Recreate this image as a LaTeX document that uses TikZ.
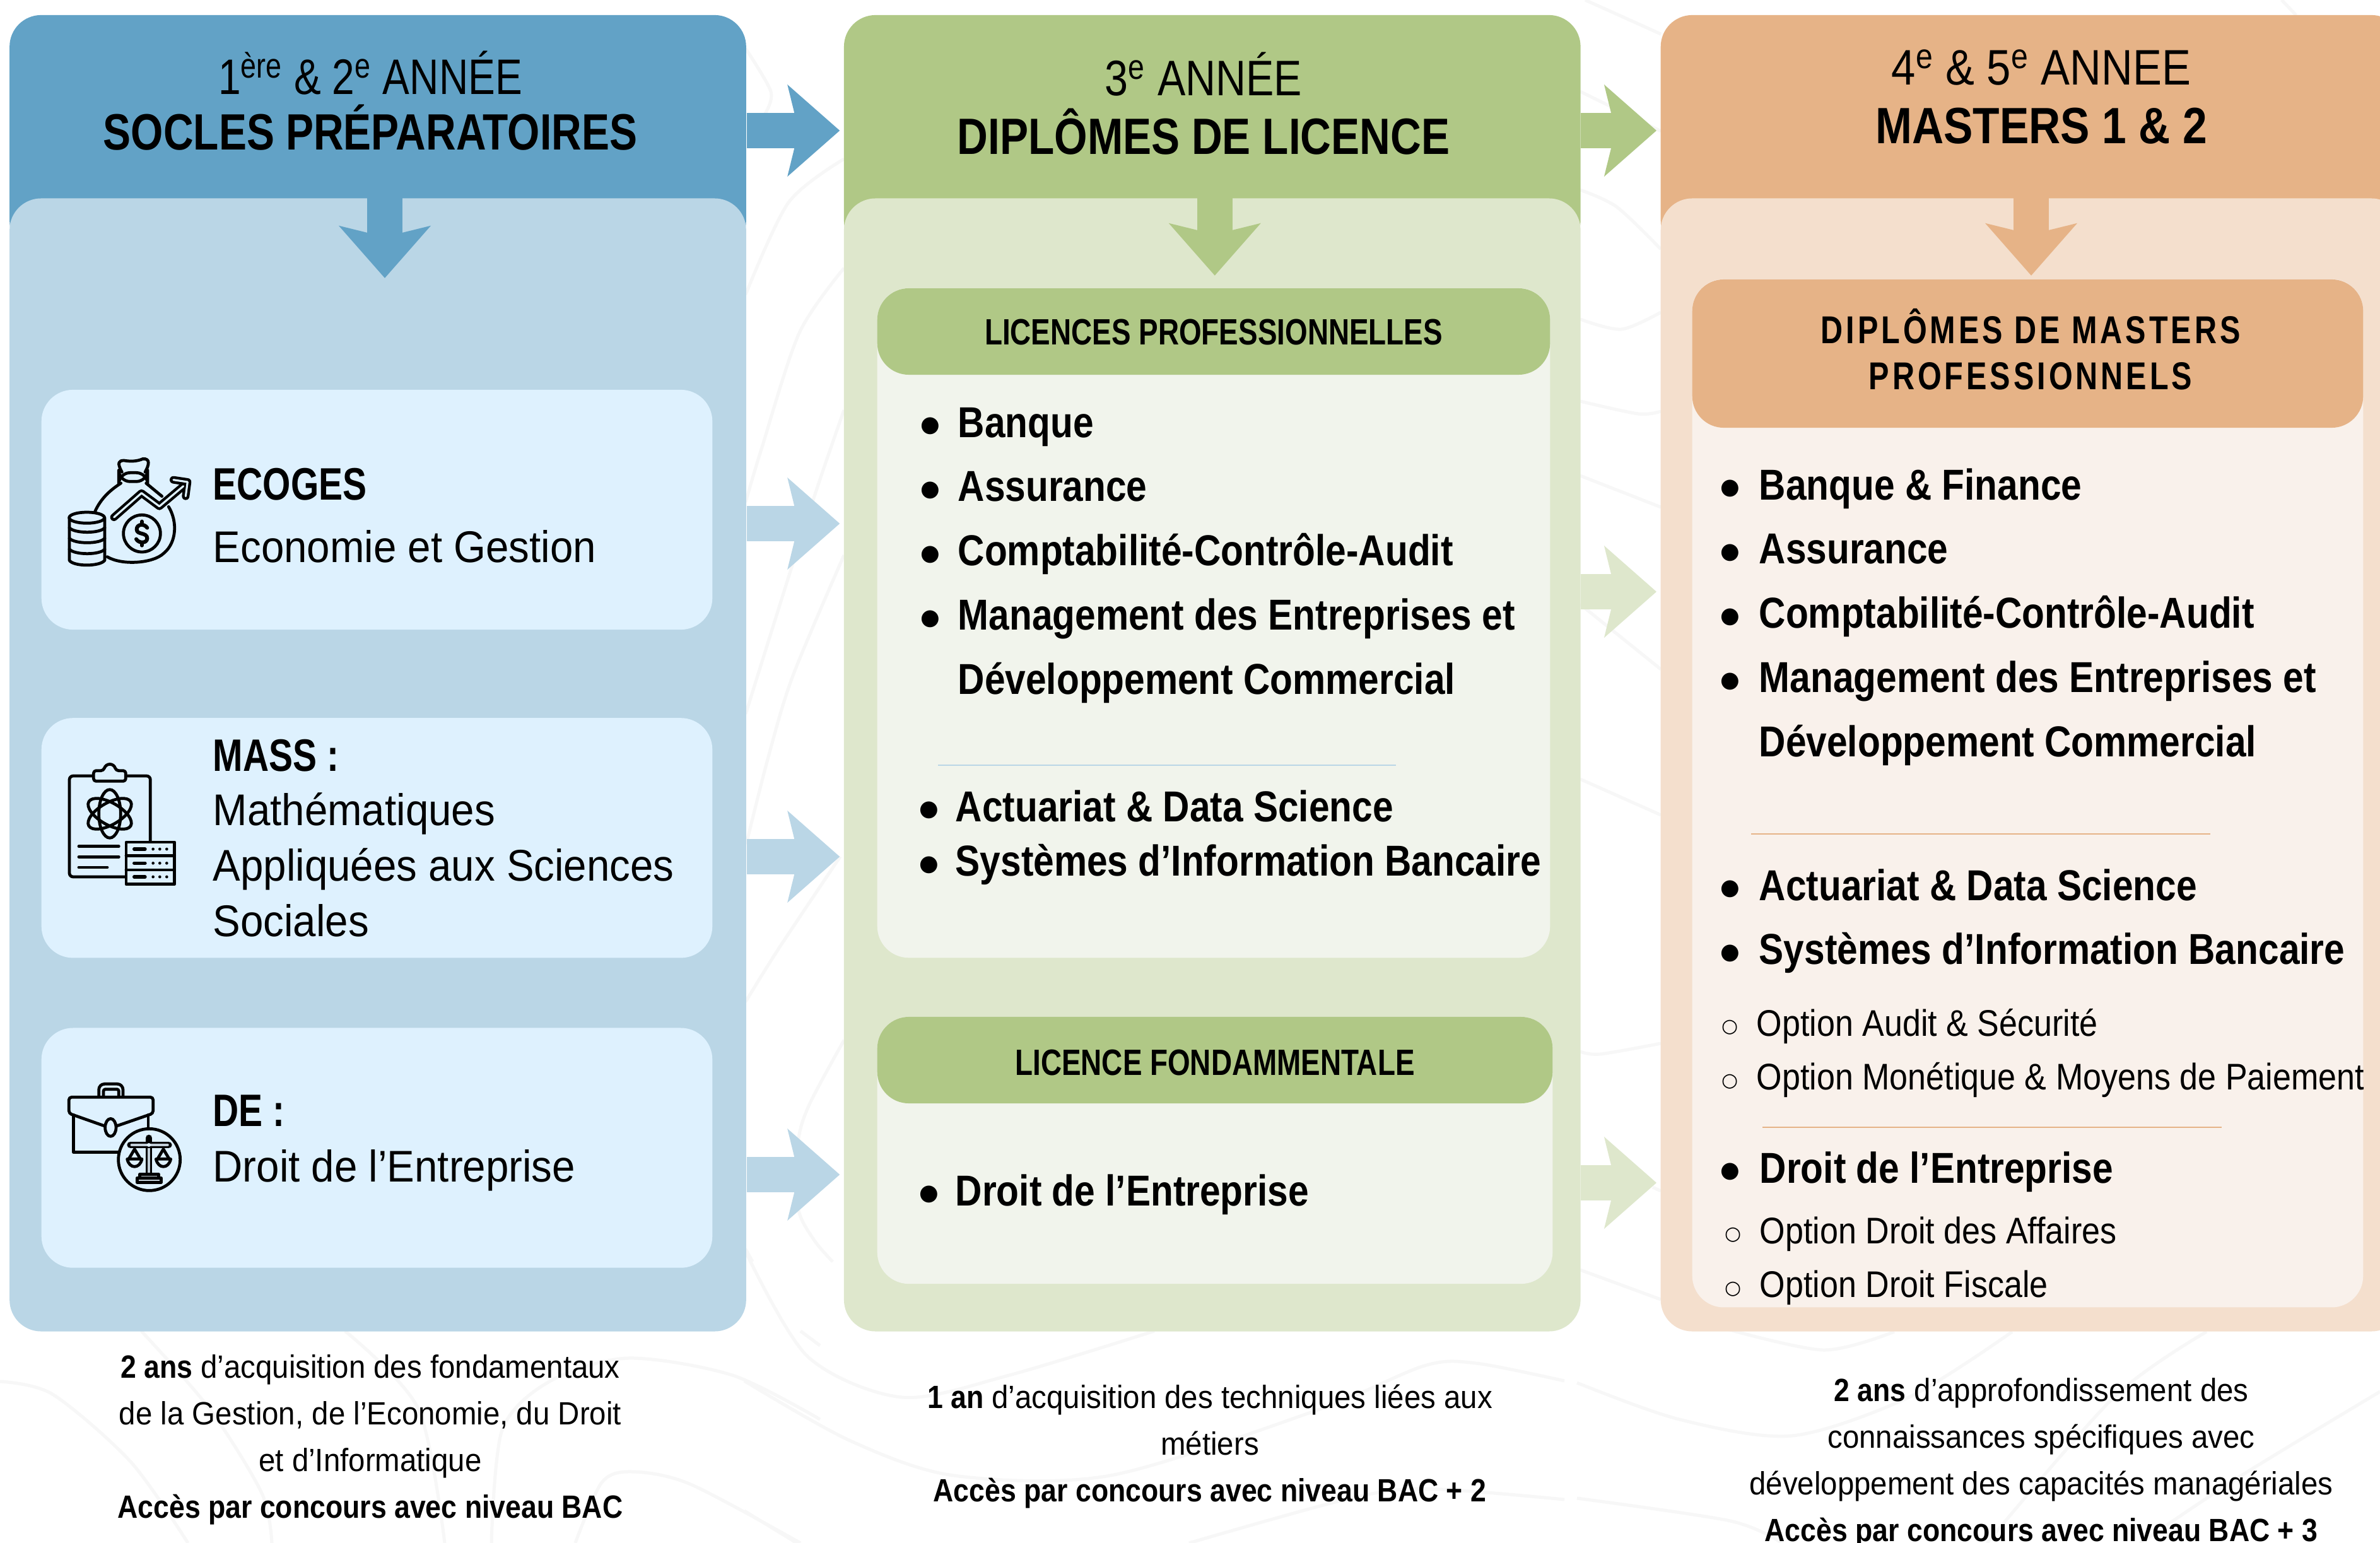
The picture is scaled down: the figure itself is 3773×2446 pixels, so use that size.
\documentclass[tikz,border=0pt]{standalone}
\usepackage{fontspec}
\usepackage{array}
\setmainfont{Liberation Sans}[FakeStretch=.93]
\newfontfamily\listfont{Liberation Sans}[FakeStretch=.855]
\newfontfamily\headfont{Liberation Sans}[FakeStretch=.79]
\newfontfamily\dotfont{DejaVu Sans}
\usetikzlibrary{arrows.meta}
\usetikzlibrary{positioning}
\definecolor{blueDark}{HTML}{62A2C6}
\definecolor{blueLight}{HTML}{BAD6E6}
\definecolor{bluePale}{HTML}{DEF1FE}
\definecolor{greenDark}{HTML}{B0C886}
\definecolor{greenLight}{HTML}{DEE7CC}
\definecolor{greenPale}{HTML}{F1F4EC}
\definecolor{orangeDark}{HTML}{E6B387}
\definecolor{orangeLight}{HTML}{F4DFCD}
\definecolor{orangePale}{HTML}{F9F1EB}
\definecolor{swirl}{HTML}{F7F7F7}
\newcommand{\bigdot}{\raisebox{2.5pt}{\dotfont\fontsize{10}{10}\selectfont ●}}
\newcommand{\ringdot}{\raisebox{1.6pt}{\dotfont\fontsize{8.5}{8.5}\selectfont ○}}
\newcommand{\footbold}[1]{{\listfont\bfseries\addfontfeature{FakeStretch=.875}#1}}
\tikzset{
    box/.style={
           rectangle,
           draw=none,
           inner sep=0pt,
           rounded corners=.5cm,
           },
    column/.style={box, minimum width=11.67cm, minimum height=17.95cm},
    header/.style={box, minimum width=11.67cm, minimum height=3.76cm},
    card/.style={box, fill=bluePale, minimum width=10.63cm, minimum height=3.8cm},
    banner/.style={box, fill=greenDark, minimum height=1.37cm},
    yeartext/.style={anchor=base, font=\addfontfeature{FakeStretch=#1}\fontsize{22.5}{26}\selectfont},
    titletext/.style={anchor=base, font=\headfont\bfseries\addfontfeature{FakeStretch=#1}\fontsize{23}{26}\selectfont},
    cardtext/.style={anchor=base west, align=left, font=\fontsize{20}{25}\selectfont},
    cardtitle/.style={anchor=base west, font=\headfont\bfseries\fontsize{20.5}{25}\selectfont},
    bannertext/.style={anchor=base, align=center, font=\headfont\bfseries\fontsize{16.5}{24.3}\selectfont},
    mastertext/.style={anchor=base, font=\headfont\bfseries\addfontfeature{LetterSpace=8}\fontsize{17.5}{24.5}\selectfont},
    itemtext/.style={anchor=base west, inner sep=0pt, font=\listfont\bfseries\fontsize{19.5}{29}\selectfont},
    optiontext/.style={anchor=base west, inner sep=0pt, font=\addfontfeature{FakeStretch=.886}\fontsize{16.7}{24.4}\selectfont},
    foottext/.style={anchor=base, align=center, font=\fontsize{14.5}{21}\selectfont},
    flow/.style={line width=.56cm, shorten >=.06cm,
       -{Stealth[length=.83cm, width=1.46cm, inset=.18cm, line width=0pt]}},
    rule/.style={line width=.7pt},
    icon/.style={line width=1.35pt, line cap=round, line join=round},
    iconframe/.style={x=.01cm/3, y=-.01cm/3},
    swirlline/.style={swirl, line width=.05cm},
}

\begin{document}
\begin{tikzpicture}[x=.01cm, y=-.01cm]
 \useasboundingbox[fill=white] (0,0) rectangle (3773,2446);

 \foreach \swirlpath in {
   {(1182,77) (1222,145) (1213,180)},
   {(1182,467) (1250,321) (1338,252)},
   {(1182,796) (1207,712) (1267,528) (1338,425)},
   {(1182,1132) (1283,811) (1338,650)},
   {(1183,1338) (1218,1200) (1257,1071) (1338,880)},
   {(1182,1588) (1233,1506) (1332,1358)},
   {(1338,1649) (1283,1751) (1265,1812) (1265,1914) (1290,1965) (1320,2000)},
   {(1182,1980) (1193,2000)},
   {(2513,0) (2633,54)},
   {(2505,145) (2633,208)},
   {(2505,301) (2563,328) (2633,395)},
   {(2505,506) (2570,522) (2633,495)},
   {(2505,636) (2597,656) (2633,652)},
   {(2505,754) (2633,804)},
   {(2505,958) (2633,1061)},
   {(2505,1235) (2633,1292)},
   {(2505,1667) (2537,1671) (2633,1654)},
   {(2620,1882) (2633,1888)},
   {(2505,2013) (2633,2060)},
   {(3617,0) (3640,24)},
   {(0,2190) (83,2210) (207,2317) (298,2446)},
   {(224,2110) (332,2233) (415,2367) (431,2446)},
   {(547,2110) (663,2233) (705,2446)},
   {(779,2446) (796,2267) (871,2190) (995,2153) (1161,2180) (1300,2250)},
   {(912,2446) (954,2350) (1003,2333) (1095,2353) (1269,2446)},
   {(1269,2110) (1300,2133)},
   {(1180,1980) (1280,2150) (1430,2215) (1600,2180) (1830,2110)},
   {(1180,2189) (1346,2283) (1512,2339) (1760,2339) (2092,2234) (2258,2165) (2340,2161) (2480,2189)},
   {(1180,2395) (1263,2446)},
   {(1885,2446) (2133,2377) (2258,2360) (2480,2377)},
   {(2727,2104) (2890,2140) (3003,2111)},
   {(2500,2192) (2662,2250) (2841,2276) (3028,2214) (3190,2111)},
   {(3498,2111) (3352,2214) (3150,2446)},
   {(3773,2206) (3555,2338) (3393,2446)},
   {(2500,2375) (2743,2411) (2825,2446)}}
  \draw[swirlline] plot[smooth] coordinates \swirlpath;

 \node[header, fill=blueDark] (HEADA) at (599,212) {};
 \node[header, fill=greenDark, node distance=13.22cm, right of=HEADA] (HEADB) {};
 \node[header, fill=orangeDark, minimum width=11.76cm, node distance=12.985cm, right of=HEADB] (HEADC) {};

 \node[column, fill=blueLight] (COLA) at (599,1212.5) {};
 \node[column, fill=greenLight, node distance=13.22cm, right of=COLA] (COLB) {};
 \node[column, fill=orangeLight, minimum width=11.76cm, node distance=12.985cm, right of=COLB] (COLC) {};

 \node[card] (ECOGES) at (597.5,808) {};
 \node[card, node distance=5.2cm, below of=ECOGES] (MASS) {};
 \node[card, node distance=4.91cm, below of=MASS] (DROIT) {};

 \node[box, fill=greenPale, minimum width=10.66cm, minimum height=10.61cm] (PROPANEL) at (1924,987.5) {};
 \node[banner, minimum width=10.66cm] (PROBANNER) at (1924,525.5) {};
 \node[box, fill=greenPale, minimum width=10.7cm, minimum height=4.23cm] (FONDPANEL) at (1926,1823.5) {};
 \node[banner, minimum width=10.7cm] (FONDBANNER) at (1926,1680.5) {};
 \node[box, fill=orangePale, minimum width=10.63cm, minimum height=16.29cm] (MASTERPANEL) at (3214.5,1257.5) {};
 \node[box, fill=orangeDark, minimum width=10.63cm, minimum height=2.35cm] (MASTERBANNER) at (3214.5,560.5) {};

 \coordinate (ROWTOP) at (0,207);
 \coordinate (ROWECO) at (0,830);
 \coordinate (ROWMASS) at (0,1358);
 \coordinate (ROWDROIT) at (0,1862);
 \coordinate (ROWLIC) at (0,938);
 \coordinate (ROWFOND) at (0,1875);

 \draw[flow, blueDark] (HEADA.east |- ROWTOP) -- (HEADB.west |- ROWTOP);
 \draw[flow, greenDark] (HEADB.east |- ROWTOP) -- (HEADC.west |- ROWTOP);
 \draw[flow, blueLight] (COLA.east |- ROWECO) -- (COLB.west |- ROWECO);
 \draw[flow, blueLight] (COLA.east |- ROWMASS) -- (COLB.west |- ROWMASS);
 \draw[flow, blueLight] (COLA.east |- ROWDROIT) -- (COLB.west |- ROWDROIT);
 \draw[flow, greenLight] (COLB.east |- ROWLIC) -- (COLC.west |- ROWLIC);
 \draw[flow, greenLight] (COLB.east |- ROWFOND) -- (COLC.west |- ROWFOND);

 \draw[flow, blueDark, shorten >=0pt] ([xshift=.11cm]COLA.north) -- ++(0,127);
 \draw[flow, greenDark, shorten >=0pt] ([xshift=.04cm]COLB.north) -- ++(0,123);
 \draw[flow, orangeDark, shorten >=0pt] ([xshift=-.01cm]COLC.north) -- ++(0,123);

 \node[yeartext=.81] (YEARA) at (587,150) {1\textsuperscript{ère} \& 2\textsuperscript{e} ANNÉE};
 \node[titletext=.815] (TITLEA) at (587,238) {SOCLES PRÉPARATOIRES};
 \node[yeartext=.84] (YEARB) at (1908,152) {3\textsuperscript{e} ANNÉE};
 \node[titletext=.835] (TITLEB) at (1908,245) {DIPLÔMES DE LICENCE};
 \node[yeartext=.87] (YEARC) at (3236,135) {4\textsuperscript{e} \& 5\textsuperscript{e} ANNEE};
 \node[titletext=.86] (TITLEC) at (3236,228) {MASTERS 1 \& 2};

 \node[cardtitle, inner sep=0pt] (ECOGESNAME) at (337,792) {ECOGES};
 \node[cardtext, inner sep=0pt] (ECOGESTEXT) at (337,891) {Economie et Gestion};
 \node[cardtitle, inner sep=0pt] (MASSNAME) at (337,1222) {MASS :};
 \node[cardtext, inner sep=0pt] (MASSTEXT) at (337,1484) {Mathématiques\\Appliquées aux Sciences\\Sociales};
 \node[cardtitle, inner sep=0pt] (DROITNAME) at (337,1785) {DE :};
 \node[cardtext, inner sep=0pt] (DROITTEXT) at (337,1873) {Droit de l’Entreprise};

 \node[bannertext] (PROTITLE) at (1924,547) {LICENCES PROFESSIONNELLES};
 \node[bannertext] (FONDTITLE) at (1926,1704) {LICENCE FONDAMMENTALE};
 \node[mastertext] (MASTERTITLE) at (3219,545) {DIPLÔMES DE MASTERS};
 \node[mastertext] (MASTERTITLEB) at (3219,617) {PROFESSIONNELS};

 \node[itemtext] (LICLIST) at (1454,693)
 {\begin{tabular}[t]{@{}>{\centering}m{.4cm}@{\hspace{.24cm}}l@{}}
   \bigdot & Banque\\
   \bigdot & Assurance\\
   \bigdot & Comptabilité-Contrôle-Audit\\
   \bigdot & Management des Entreprises et\\
           & Développement Commercial
  \end{tabular}};

 \node[itemtext, font=\listfont\bfseries\fontsize{19.5}{24.7}\selectfont] (LICLISTB) at (1452,1302)
 {\begin{tabular}[t]{@{}>{\centering}m{.4cm}@{\hspace{.22cm}}l@{}}
   \bigdot & Actuariat \& Data Science\\
   \bigdot & Systèmes d’Information Bancaire
  \end{tabular}};

 \node[itemtext] (FONDLIST) at (1452,1911)
 {\begin{tabular}[t]{@{}>{\centering}m{.4cm}@{\hspace{.22cm}}l@{}}
   \bigdot & Droit de l’Entreprise
  \end{tabular}};

 \node[itemtext] (MASTERLIST) at (2722,792)
 {\begin{tabular}[t]{@{}>{\centering}m{.4cm}@{\hspace{.26cm}}l@{}}
   \bigdot & Banque \& Finance\\
   \bigdot & Assurance\\
   \bigdot & Comptabilité-Contrôle-Audit\\
   \bigdot & Management des Entreprises et\\
           & Développement Commercial
  \end{tabular}};

 \node[itemtext] (MASTERLISTB) at (2722,1427)
 {\begin{tabular}[t]{@{}>{\centering}m{.4cm}@{\hspace{.26cm}}l@{}}
   \bigdot & Actuariat \& Data Science\\
   \bigdot & Systèmes d’Information Bancaire
  \end{tabular}};

 \node[optiontext] (MASTEROPT) at (2724,1642)
 {\begin{tabular}[t]{@{}>{\centering}m{.36cm}@{\hspace{.24cm}}l@{}}
   \ringdot & Option Audit \& Sécurité\\
   \ringdot & Option Monétique \& Moyens de Paiement
  \end{tabular}};

 \node[itemtext] (MASTERLISTC) at (2722,1875)
 {\begin{tabular}[t]{@{}>{\centering}m{.4cm}@{\hspace{.27cm}}l@{}}
   \bigdot & Droit de l’Entreprise
  \end{tabular}};

 \node[optiontext] (MASTEROPTB) at (2729,1971)
 {\begin{tabular}[t]{@{}>{\centering}m{.36cm}@{\hspace{.24cm}}l@{}}
   \ringdot & Option Droit des Affaires\\
   \ringdot & Option Droit Fiscale
  \end{tabular}};

 \coordinate (RULEA) at (1487,1213);
 \coordinate (RULEB) at (2213,1213);
 \coordinate (RULEC) at (2776,1322);
 \coordinate (RULED) at (3504,1322);
 \coordinate (RULEE) at (2794,1787);
 \coordinate (RULEF) at (3522,1787);
 \draw[rule, blueLight] (RULEA) -- (RULEB);
 \draw[rule, orangeDark] (RULEC) -- (RULED);
 \draw[rule, orangeDark] (RULEE) -- (RULEF);

 \node[foottext] (FOOTA) at (587,2406)
 {\footbold{2 ans} d’acquisition des fondamentaux\\de la Gestion, de l’Economie, du Droit\\et d’Informatique\\\footbold{Accès par concours avec niveau BAC}};
 \node[foottext] (FOOTB) at (1918,2380)
 {\footbold{1 an} d’acquisition des techniques liées aux\\métiers\\\footbold{Accès par concours avec niveau BAC + 2}};
 \node[foottext] (FOOTC) at (3236,2443)
 {\footbold{2 ans} d’approfondissement des\\connaissances spécifiques avec\\développement des capacités managériales\\\footbold{Accès par concours avec niveau BAC + 3}};

 % money bag
 \begin{scope}[shift={(60,680)}, iconframe, icon]
  \draw (272,392) .. controls (300,330) and (345,290) .. (395,258);
  \draw (515,258) -- (590,320);
  \draw (622,370) .. controls (665,440) and (660,540) .. (600,590)
        .. controls (550,640) and (400,650) .. (330,608);
  \draw (400,205) .. controls (375,160) and (385,150) .. (410,150)
        .. controls (440,155) and (470,155) .. (500,142)
        .. controls (535,140) and (530,170) .. (510,205);
  \draw[rounded corners=.18cm] (385,208) rectangle (522,250);
  \draw[line width=3.4pt] (362,420) -- (493,305) -- (578,368) -- (692,272);
  \draw[line width=3.4pt] (645,242) -- (712,252) -- (703,320);
  \draw[bluePale, line width=.9pt] (362,420) -- (493,305) -- (578,368) -- (692,272);
  \draw[bluePale, line width=.9pt] (645,242) -- (712,252) -- (703,320);
  \draw (495,497) circle[radius=88];
  \draw[line width=1.7pt] (520,470) .. controls (505,448) and (470,452) .. (470,478)
        .. controls (470,505) and (520,490) .. (520,520)
        .. controls (520,545) and (480,545) .. (468,524);
  \draw[line width=1.7pt] (495,440) -- (495,452) (495,542) -- (495,554);
  \draw[fill=bluePale] (150,422) -- (150,625) .. controls (170,655) and (295,655) .. (318,625)
        -- (318,422) -- cycle;
  \draw[fill=bluePale] (233,422) ellipse[x radius=84, y radius=26];
  \draw (150,470) .. controls (175,498) and (295,498) .. (318,470);
  \draw (150,520) .. controls (175,548) and (295,548) .. (318,520);
  \draw (150,572) .. controls (175,600) and (295,600) .. (318,572);
 \end{scope}

 % clipboard
 \begin{scope}[shift={(60,1180)}, iconframe, icon]
  \draw[rounded corners=.06cm] (265,150) -- (150,150) -- (150,630) -- (535,630) -- (535,150) -- (418,150);
  \draw[rounded corners=.04cm, fill=bluePale] (265,125) -- (312,125) .. controls (325,88) and (360,88) .. (372,125)
       -- (418,125) -- (418,175) -- (265,175) -- cycle;
  \draw (342,330) ellipse[x radius=52, y radius=115];
  \draw[rotate around={60:(342,330)}] (342,330) ellipse[x radius=52, y radius=115];
  \draw[rotate around={-60:(342,330)}] (342,330) ellipse[x radius=52, y radius=115];
  \draw (195,485) -- (385,485) (195,535) -- (385,535) (195,585) -- (330,585);
  \draw[fill=bluePale, miter limit=1] (420,465) rectangle (650,665);
  \draw (420,530) -- (650,530) (420,597) -- (650,597);
  \foreach \rowy in {498,565,630}{
   \draw[line width=1.5pt] (458,\rowy) -- (510,\rowy);
   \foreach \dotx in {548,580,613}
    \fill (\dotx,\rowy) circle[radius=7];
  }
 \end{scope}

 % briefcase
 \begin{scope}[shift={(60,1680)}, iconframe, icon]
  \draw[rounded corners=.09cm] (290,175) -- (290,115) -- (405,115) -- (405,175);
  \draw[rounded corners=.03cm] (312,175) -- (312,140) -- (385,140) -- (385,175);
  \draw (170,262) -- (170,440) -- (390,440);
  \draw (525,262) -- (525,330);
  \draw[rounded corners=.04cm] (318,315) -- (148,255) -- (148,178) -- (548,178) -- (548,255) -- (374,315);
  \draw[fill=bluePale] (346,322) ellipse[x radius=26, y radius=42];
  \draw[fill=bluePale] (530,475) circle[radius=147];
  \draw[line width=3pt] (528,372) -- (528,548);
  \draw[bluePale!70!gray, line width=1pt] (528,420) -- (528,540);
  \draw[line width=3pt] (440,405) -- (622,405);
  \draw[bluePale!70!gray, line width=1pt] (445,405) -- (618,405);
  \fill[bluePale] (528,405) circle[radius=9];
  \draw (460,425) -- (432,472) (460,425) -- (488,472);
  \draw (597,425) -- (569,472) (597,425) -- (625,472);
  \draw (425,472) .. controls (435,520) and (485,520) .. (495,472) -- cycle;
  \draw (562,472) .. controls (572,520) and (622,520) .. (632,472) -- cycle;
  \draw[fill=bluePale!70!gray] (485,545) rectangle (575,562);
  \draw[fill=bluePale!70!gray] (472,562) rectangle (586,583);
 \end{scope}
\end{tikzpicture}
\end{document}
